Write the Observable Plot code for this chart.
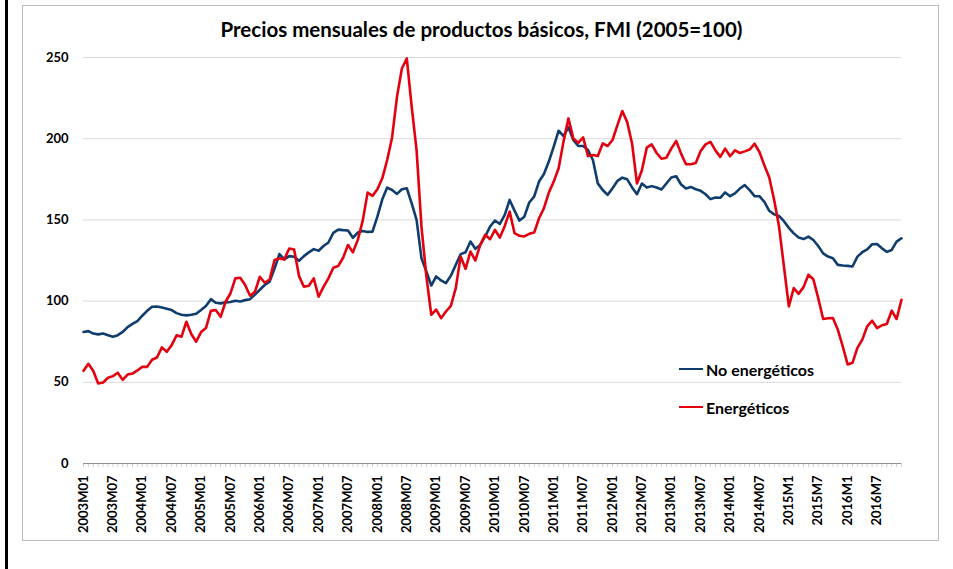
<!DOCTYPE html>
<html>
<head>
<meta charset="utf-8">
<script src="https://cdn.jsdelivr.net/npm/d3@7"></script>
<script src="https://cdn.jsdelivr.net/npm/@observablehq/plot@0.6"></script>
<style>
  html, body { margin: 0; padding: 0; background: #fff; }
  #wrap { position: relative; width: 953px; height: 569px; overflow: hidden; font-family: Lato, "Open Sans", sans-serif; }
  #leftbar { position: absolute; left: 5px; top: 0; width: 3px; height: 569px; background: #000; }
  #box { position: absolute; left: 22px; top: 5px; width: 917px; height: 536px; border: 1.5px solid #bdbdbd; box-sizing: border-box; }
  #title { position: absolute; left: 22px; width: 919px; top: 17px; text-align: center; font-weight: bold; font-size: 20.5px; color: #000; }
  #chart { position: absolute; left: 0; top: 0; }
  .leg { position: absolute; display: flex; align-items: center; font-weight: bold; font-size: 16px; color: #000; height: 22px; }
  .leg span.sw { display: inline-block; width: 24px; height: 2.6px; margin-right: 3px; }
</style>
</head>
<body>
<div id="wrap">
  <div id="leftbar"></div>
  <div id="box"></div>
  <div id="chart"></div>
  <div id="title"></div>
  <div id="legend"></div>
</div>
<script>
const title = "Precios mensuales de productos básicos, FMI (2005=100)";
const seriesNames = ["No energéticos", "Energéticos"];
const seriesColors = ["#0f3d6e", "#e3000f"];

// Monthly categories 2003M01 .. 2016M12
const years = [2003, 2004, 2005, 2006, 2007, 2008, 2009, 2010, 2011, 2012, 2013, 2014, 2015, 2016];
const months = [];
for (const y of years) for (let m = 1; m <= 12; m++) months.push(y + "M" + String(m).padStart(2, "0"));

// Tick labels shown every six months (as printed in the original)
const tickMonths = ["2003M01","2003M07","2004M01","2004M07","2005M01","2005M07","2006M01","2006M07","2007M01","2007M07","2008M01","2008M07","2009M01","2009M07","2010M01","2010M07","2011M01","2011M07","2012M01","2012M07","2013M01","2013M07","2014M01","2014M07","2015M01","2015M07","2016M01","2016M07"];
const tickLabels = ["2003M01","2003M07","2004M01","2004M07","2005M01","2005M07","2006M01","2006M07","2007M01","2007M07","2008M01","2008M07","2009M01","2009M07","2010M01","2010M07","2011M01","2011M07","2012M01","2012M07","2013M01","2013M07","2014M01","2014M07","2015M1","2015M7","2016M1","2016M7"];
const yTicks = [0, 50, 100, 150, 200, 250];

const noEnergeticos = [
  81, 81.5, 80, 79.5, 80, 79, 78, 79, 81, 84, 86, 87.7,
  91, 94, 96.5, 96.7, 96, 95.3, 94.5, 92.6, 91.6, 91.2, 91.6, 92.2,
  94.5, 97, 101.2, 99, 98.6, 99.2, 99.4, 100.2, 99.8, 100.6, 101.2, 104,
  107, 109.9, 112, 120, 129, 125.7, 127.7, 127.3, 124.8, 127.7, 130, 132,
  131, 133.9, 136.1, 142, 144, 143.7, 143.5, 139, 142.2, 143.2, 142.6, 142.8,
  152, 162.7, 169.9, 168.4, 166, 168.9, 169.5, 160.2, 150, 126.4, 118.2, 109.6,
  115.2, 112.7, 111.1, 115.6, 122.3, 128.9, 130.1, 136.7, 132.2, 134.6, 139.8, 145.9,
  149.6, 147.5, 153.1, 162.3, 155.7, 149.6, 152, 160.7, 164.3, 173.6, 178.3, 185.9,
  195.1, 204.9, 201.6, 207, 199.2, 195.5, 195.5, 193, 186.9, 172.5, 168.4, 165.4,
  169.5, 174, 176, 175, 170, 165.8, 172.4, 169.9, 170.8, 169.9, 168.7, 172.4,
  176.1, 176.9, 171.8, 169.3, 170.3, 168.9, 167.9, 165.8, 162.8, 163.8, 163.6, 166.9,
  164.6, 166.3, 169.3, 171.4, 168.3, 164.6, 164.6, 161.1, 155.6, 153.4, 152.4, 149.2,
  145.1, 141.7, 139.1, 138.2, 139.7, 137.6, 133.9, 129.4, 127.4, 126.4, 122.3, 121.9,
  121.7, 121.3, 127.4, 130.1, 131.9, 135, 135.2, 132.5, 130.3, 131.5, 136.6, 138.7
];
const energeticos = [
  57.1, 61.4, 56.9, 49.3, 49.9, 52.8, 53.8, 55.9, 51.5, 54.8, 55.4, 57.3,
  59.5, 59.5, 63.9, 65.3, 71.5, 68.8, 72.9, 78.9, 78, 87.3, 79.7, 75,
  80.9, 83.4, 94, 94.5, 90.3, 99.6, 104.7, 114, 114.4, 109.9, 103.3, 105.7,
  115, 111.3, 113.3, 125.3, 126.3, 125.7, 132.4, 131.8, 115.4, 108.8, 109.4, 114,
  102.7, 108.8, 114, 120.5, 121.6, 126.7, 134.5, 130, 137.7, 149.4, 166.8, 164.8,
  168.9, 175.6, 186.9, 200.8, 225.8, 243.2, 249.4, 219.7, 193, 145.9, 115.2, 91.6,
  94.7, 89.5, 93.6, 97.1, 108, 127.5, 119.9, 130.5, 125, 134.6, 140.8, 138.1,
  143.9, 139.1, 146.3, 155.1, 141.8, 140.2, 139.8, 141.4, 142.2, 151, 157.2, 166.8,
  173.6, 181.8, 198.2, 212.5, 200.2, 197.5, 200.8, 189.3, 190, 189.3, 197.1, 195.5,
  199.2, 208.4, 217, 210.2, 196.9, 172.4, 180.6, 194.5, 196.5, 191.2, 187.7, 188.3,
  193.9, 198.6, 190.8, 184.3, 184.3, 185.1, 192.4, 196.5, 198, 192.8, 188.8, 193.9,
  189.2, 192.8, 191.2, 192.2, 193.3, 196.9, 191.8, 183.6, 176.1, 162.2, 145.9, 121.3,
  96.7, 108, 104.5, 108.6, 116.2, 113.5, 101.8, 89, 89.4, 89.6, 82.4, 72.2,
  61, 62, 71.2, 76.3, 84.5, 87.9, 83.4, 85.1, 85.9, 94.1, 89, 100.8
];

const rows = [];
months.forEach((m, i) => rows.push({month: m, value: noEnergeticos[i], serie: seriesNames[0]}));
months.forEach((m, i) => rows.push({month: m, value: energeticos[i], serie: seriesNames[1]}));
const labelOf = new Map(tickMonths.map((m, i) => [m, tickLabels[i]]));

const chart = Plot.plot({
  width: 953,
  height: 569,
  marginLeft: 83,
  marginRight: 52,
  marginTop: 57,
  marginBottom: 106,
  style: {fontFamily: "Lato, 'Open Sans', sans-serif", fontWeight: "bold", fontSize: "13px", color: "#000", background: "transparent", overflow: "visible"},
  x: {type: "point", domain: months, padding: 0},
  y: {domain: [0, 250]},
  color: {domain: seriesNames, range: seriesColors},
  marks: [
    Plot.gridY({ticks: yTicks, stroke: "#d9d9d9", strokeOpacity: 1}),
    Plot.axisY({ticks: yTicks, tickSize: 0, tickPadding: 15, label: null, fontSize: 13}),
    Plot.axisX({ticks: months, tickSize: 4, tickFormat: () => "", stroke: "#cfcfcf", strokeOpacity: 1, label: null}),
    Plot.axisX({ticks: tickMonths, tickSize: 0, tickPadding: 12, tickRotate: -90, tickFormat: d => labelOf.get(d), label: null, fontSize: 13}),
    Plot.ruleY([0], {stroke: "#8f8f8f", strokeWidth: 1.2}),
    Plot.line(rows, {x: "month", y: "value", z: "serie", stroke: "serie", strokeWidth: 2.6, strokeLinejoin: "round"})
  ]
});
document.getElementById("chart").appendChild(chart);
document.getElementById("title").textContent = title;

const legend = document.getElementById("legend");
seriesNames.forEach((name, i) => {
  const d = document.createElement("div");
  d.className = "leg";
  d.style.left = "679px";
  d.style.top = (358 + i * 38) + "px";
  const sw = document.createElement("span");
  sw.className = "sw";
  sw.style.background = seriesColors[i];
  d.appendChild(sw);
  d.appendChild(document.createTextNode(name));
  legend.appendChild(d);
});
</script>
</body>
</html>
